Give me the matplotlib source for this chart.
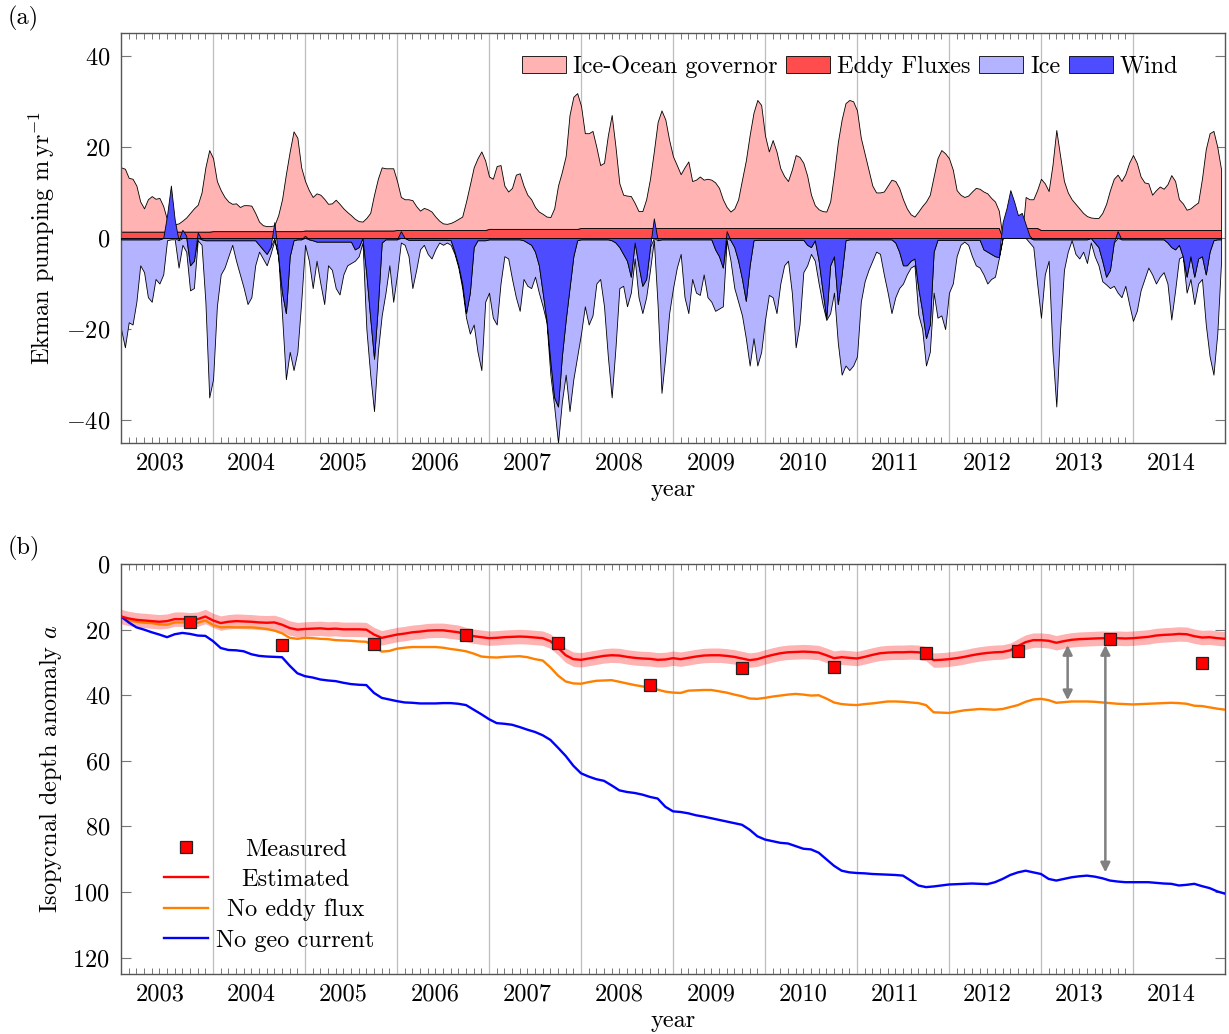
import numpy as np
import matplotlib
matplotlib.use('Agg')
import matplotlib.pyplot as plt

plt.rcParams['font.family'] = 'cmr10'
plt.rcParams['mathtext.fontset'] = 'cm'
plt.rcParams['axes.formatter.use_mathtext'] = True
plt.rcParams['font.size'] = 17.5

# --- (a) Ekman pumping contributions, two samples per month from 2003.0 ---
t_ek = 2003 + np.arange(288) / 24

eddy_yearly = [1.4, 1.5, 1.65, 1.75, 2.0, 2.2, 2.2, 2.2, 2.2, 2.2, 1.75, 1.75]

# upper edge of the governor area (stacked on the eddy band)
gov_top = [
    15.5, 15.2, 13.2, 13.0, 11.5, 8.0, 6.5, 8.5, 9.2, 8.6, 8.8, 7.0, 4.0, 3.2, 3.0, 3.2, 3.8, 4.5, 5.5, 6.5, 7.3, 10.0, 15.5, 19.3,
    17.5, 12.5, 10.5, 9.0, 8.0, 7.5, 7.6, 6.8, 7.2, 7.2, 7.1, 5.5, 3.6, 2.8, 2.6, 2.6, 2.8, 5.0, 8.5, 14.0, 19.0, 23.4, 22.0, 15.5,
    12.5, 10.5, 9.0, 9.8, 9.5, 8.6, 7.5, 7.6, 8.4, 7.5, 6.5, 5.7, 5.0, 4.2, 3.7, 3.6, 4.4, 5.5, 9.5, 13.0, 15.5, 15.3, 15.3, 15.3,
    12.5, 9.0, 8.5, 8.5, 8.3, 7.0, 6.0, 6.6, 6.3, 5.8, 4.7, 3.8, 3.2, 3.1, 3.3, 3.7, 4.2, 4.7, 8.0, 11.7, 15.5, 17.5, 19.0, 17.0,
    13.5, 13.0, 15.8, 16.0, 11.5, 10.2, 11.0, 13.9, 14.2, 11.5, 9.5, 8.5, 6.8, 5.8, 5.3, 4.7, 4.6, 6.5, 11.5, 14.5, 18.0, 27.0, 31.0, 31.8,
    29.0, 23.0, 23.0, 23.5, 20.0, 16.0, 16.5, 22.5, 27.0, 20.0, 12.0, 9.5, 9.3, 9.2, 7.7, 5.9, 5.9, 8.5, 13.0, 19.0, 25.5, 28.0, 26.0, 21.5,
    17.9, 16.0, 14.0, 15.5, 16.8, 12.5, 12.8, 13.5, 12.8, 13.0, 12.8, 12.2, 11.0, 8.5, 6.8, 5.8, 6.5, 8.5, 12.8, 17.0, 22.6, 27.5, 30.3, 29.2,
    22.5, 19.0, 21.5, 19.0, 15.3, 13.6, 12.5, 15.0, 18.2, 17.8, 16.5, 13.7, 9.5, 7.2, 6.3, 5.9, 5.8, 8.0, 14.0, 21.0, 26.0, 29.6, 30.3, 30.0,
    28.0, 22.0, 18.5, 15.0, 11.5, 10.0, 10.0, 10.2, 11.5, 12.8, 12.5, 11.0, 8.5, 6.5, 5.2, 4.7, 5.8, 7.0, 8.0, 9.5, 13.5, 17.5, 19.3, 18.6,
    17.5, 15.0, 10.5, 9.5, 9.0, 9.3, 10.2, 11.0, 10.8, 10.2, 9.8, 8.8, 8.0, 6.0, 0.0, 0.0, 0.0, 0.0, 0.0, 0.0, 9.0, 8.5, 8.5, 10.5,
    13.0, 12.0, 10.3, 16.0, 23.7, 18.0, 12.5, 10.0, 8.5, 7.5, 6.5, 5.5, 4.8, 4.5, 4.4, 4.4, 5.5, 7.5, 10.5, 13.0, 13.9, 12.5, 14.0, 16.5,
    18.2, 16.5, 13.5, 12.2, 12.0, 9.5, 10.5, 11.3, 10.8, 11.8, 13.8, 12.5, 8.5, 7.6, 6.2, 6.5, 7.2, 7.8, 13.0, 19.5, 23.0, 23.5, 20.0, 15.0,
]

wind = [
    -0.3, -0.3, -0.3, -0.3, -0.3, -0.3, -0.3, -0.3, -0.3, -0.3, -0.3, 0.0, 5.0, 11.5, 4.0, -0.5, 1.8, 0.5, -6.0, -5.0, 1.2, -0.3, -0.5, -0.5,
    -0.5, -0.5, -0.5, -0.5, -0.5, -0.5, -0.5, -0.5, -0.5, -0.5, -0.5, -0.5, -1.5, -2.5, -3.5, -2.0, 3.5, -4.0, -12.0, -16.5, -4.0, -0.5, -0.3, -0.3,
    0.5, -0.3, -0.5, -0.8, -0.8, -0.8, -0.8, -0.8, -0.8, -0.8, -0.8, -0.8, -0.8, -2.5, -2.0, 0.0, -8.0, -17.5, -26.5, -15.0, -1.0, -0.3, -0.3, -0.3,
    -0.3, 1.5, 0.0, -0.4, -0.4, -0.4, -0.4, -0.4, -0.4, -0.4, -0.4, -0.4, -0.4, -0.4, -0.5, -3.0, -6.0, -10.0, -16.5, -12.0, -2.0, -0.5, -0.5, -0.5,
    -0.3, -0.3, -0.3, -0.3, -0.3, -0.3, -0.3, -0.3, -0.3, -0.5, -1.0, -1.5, -3.0, -6.0, -12.0, -18.0, -27.0, -35.0, -37.0, -26.0, -18.0, -11.0, -4.0, -0.5,
    -0.3, -0.3, -0.3, -0.3, -0.3, -0.3, -0.3, -0.3, -0.5, -1.0, -2.0, -3.5, -5.0, -8.5, -1.0, -6.0, -10.5, -9.0, -2.0, 4.3, -0.5, -0.3, -0.3, -0.3,
    -0.3, -0.3, -0.3, -0.3, -0.3, -0.3, -0.3, -0.3, -0.3, -0.3, -0.3, -2.5, -4.0, -6.5, 1.5, -0.5, -2.0, -5.0, -9.0, -13.8, -6.0, -0.5, -0.4, -0.4,
    -0.4, -0.4, -0.4, -0.4, -0.4, -0.4, -0.4, -0.4, -0.4, -0.4, -0.4, -1.5, -2.0, -0.5, -5.0, -11.5, -17.5, -6.0, -4.0, -14.5, -8.0, -0.5, -0.3, -0.3,
    -0.3, -0.3, -0.3, -0.3, -0.3, -0.3, -0.3, -0.3, -0.3, -0.3, -1.0, -3.0, -6.0, -6.0, -5.0, -4.5, -11.0, -16.0, -22.0, -19.0, -3.0, -0.4, -0.4, -0.4,
    -0.4, -0.4, -0.4, -0.4, -0.4, -0.4, -0.4, -0.4, -0.4, -2.5, -3.0, -3.5, -4.0, -4.2, 3.5, 6.5, 10.5, 8.0, 5.0, 5.5, 3.0, 0.5, -0.3, -0.3,
    -0.3, -0.3, -0.3, -0.3, -0.3, -0.3, -0.3, -0.3, -0.3, -0.3, -0.3, -0.3, -0.3, 0.0, -1.0, -2.0, -5.0, -8.5, -7.0, -1.0, 1.5, -0.3, -0.3, -0.3,
    -0.3, -0.3, -0.3, -0.3, -0.3, -0.3, -0.3, -0.3, -0.3, -1.0, -2.0, -2.5, -1.5, -4.0, -8.5, -4.0, -8.5, -4.5, -4.0, -8.0, -3.0, -0.5, -0.3, -0.3,
]

# lower edge of the ice area (stacked below the negative wind part)
ice_bottom = [
    -20.0, -24.0, -18.5, -19.0, -14.0, -6.0, -7.5, -13.0, -14.0, -9.0, -10.0, -8.0, -0.5, -0.3, -0.3, -6.5, -1.5, -3.0, -11.5, -11.0, -0.5, -1.5, -14.0, -35.0,
    -31.0, -15.0, -8.0, -6.5, -4.0, -1.5, -5.0, -8.0, -11.0, -14.5, -13.0, -6.0, -3.0, -4.5, -6.0, -3.5, -0.5, -4.0, -17.0, -31.0, -25.0, -29.0, -25.0, -14.0,
    -1.5, -5.0, -11.0, -5.0, -10.0, -14.5, -6.0, -7.0, -11.0, -12.4, -8.0, -6.0, -5.5, -5.0, -4.0, -1.0, -20.0, -30.0, -38.0, -25.0, -17.0, -12.0, -6.0, -14.0,
    -8.0, -1.0, -1.5, -4.0, -11.0, -7.0, -2.5, -1.5, -3.5, -4.5, -2.5, -1.0, -1.5, -1.0, -1.5, -3.5, -6.5, -11.0, -17.5, -21.0, -19.0, -25.0, -29.0, -14.0,
    -12.0, -17.5, -19.0, -10.0, -4.0, -4.5, -9.0, -13.0, -16.0, -9.0, -10.5, -11.0, -8.5, -12.0, -15.0, -18.5, -30.0, -37.0, -45.0, -36.0, -30.0, -38.0, -31.0, -26.0,
    -21.0, -15.0, -19.0, -17.0, -10.0, -9.0, -15.0, -26.0, -35.0, -24.0, -11.0, -10.5, -15.0, -12.0, -4.5, -13.0, -16.5, -13.0, -7.0, -0.5, -15.0, -34.0, -26.0, -16.5,
    -11.0, -6.5, -3.5, -13.0, -16.5, -9.0, -12.0, -12.5, -8.0, -13.0, -14.0, -16.0, -15.5, -15.0, -0.5, -5.0, -11.0, -14.0, -17.0, -22.0, -28.0, -22.0, -28.0, -25.0,
    -18.0, -12.5, -13.0, -16.5, -10.0, -6.0, -5.0, -12.0, -24.0, -19.0, -7.5, -6.0, -3.5, -5.0, -10.0, -14.5, -18.0, -16.5, -12.0, -23.0, -30.0, -28.0, -29.0, -28.0,
    -26.0, -14.0, -9.5, -7.0, -5.0, -3.0, -3.5, -8.0, -12.0, -16.5, -13.0, -11.0, -10.0, -8.0, -6.5, -6.0, -16.8, -20.0, -28.0, -25.0, -12.0, -17.5, -17.0, -20.0,
    -12.0, -10.0, -4.0, -1.5, -0.8, -1.5, -4.0, -6.0, -6.5, -8.0, -10.0, -9.0, -8.5, -4.5, 0.0, 0.0, 0.0, 0.0, 0.0, 0.0, 0.0, -1.0, -2.0, -10.0,
    -17.5, -8.0, -5.0, -24.8, -37.0, -20.0, -7.0, -3.0, -0.5, -3.5, -4.5, -3.0, -5.5, -1.0, -4.0, -6.0, -9.5, -10.2, -11.0, -10.5, -12.0, -13.0, -10.5, -14.5,
    -18.2, -16.0, -11.5, -9.0, -6.5, -8.0, -10.0, -8.5, -7.5, -10.0, -17.9, -11.5, -4.5, -4.0, -12.0, -9.0, -14.5, -10.0, -9.0, -19.0, -26.0, -30.0, -21.0, -5.0,
]

# --- (b) isopycnal depth anomaly, monthly from 2003.0 ---
t_iso = 2003 + np.arange(145) / 12

estimated = [
    16.0, 16.6, 17.0, 17.2, 17.4, 17.6, 17.4, 16.8, 16.8, 17.0, 16.8, 16.0,
    17.2, 18.0, 17.6, 17.4, 17.5, 17.6, 17.8, 17.9, 17.8, 18.5, 19.5, 20.0,
    19.8, 19.7, 19.6, 19.8, 19.7, 19.9, 19.9, 19.9, 20.0, 21.5, 22.5, 22.0,
    21.5, 21.2, 20.8, 20.6, 20.3, 20.2, 20.2, 20.5, 20.8, 21.5, 22.0, 22.3,
    22.6, 22.5, 22.3, 22.2, 22.1, 22.2, 22.4, 22.6, 23.5, 25.5, 27.8, 29.0,
    29.2, 28.8, 28.4, 28.0, 27.8, 27.9, 28.3, 28.6, 28.8, 28.9, 29.2, 29.1,
    28.7, 29.0, 28.6, 28.2, 27.9, 27.8, 27.8, 28.0, 28.3, 28.8, 29.3, 29.0,
    28.3, 27.7, 27.2, 26.9, 26.8, 26.7, 26.8, 27.0, 27.8, 28.7, 28.4, 28.6,
    28.8, 28.3, 27.7, 27.2, 27.0, 26.9, 26.9, 26.8, 26.9, 27.3, 29.3, 29.2,
    29.0, 28.7, 28.3, 27.8, 27.4, 27.1, 26.9, 26.8, 26.3, 25.0, 23.8, 23.2,
    23.2, 23.4, 24.0, 23.5, 23.1, 22.9, 22.8, 22.7, 22.6, 22.7, 22.6, 22.7,
    22.6, 22.4, 22.2, 21.8, 21.6, 21.5, 21.3, 21.4, 22.0, 22.4, 22.3, 22.6, 22.8,
]
estimated_err = 2.2

no_eddy_flux = [
    16.0, 17.2, 17.6, 17.9, 18.0, 18.4, 18.5, 17.8, 17.8, 17.6, 17.9, 17.2,
    18.6, 19.3, 19.2, 19.3, 19.3, 19.3, 19.5, 19.8, 20.3, 21.1, 22.5, 22.8,
    22.5, 22.6, 22.8, 22.9, 23.2, 23.3, 23.4, 23.6, 23.7, 25.0, 26.7, 26.5,
    25.8, 25.5, 25.3, 25.3, 25.3, 25.3, 25.5, 25.9, 26.2, 26.6, 27.3, 28.2,
    28.4, 28.5, 28.3, 28.2, 28.1, 28.4, 29.0, 29.4, 31.5, 34.0, 35.8, 36.4,
    36.5, 36.0, 35.6, 35.5, 35.4, 35.9, 36.4, 36.9, 37.3, 37.7, 38.3, 38.9,
    39.2, 39.3, 38.6, 38.5, 38.4, 38.4, 38.8, 39.2, 39.8, 40.3, 41.0, 41.1,
    40.8, 40.4, 40.1, 39.8, 39.6, 39.8, 40.1, 40.0, 41.0, 42.2, 42.7, 42.9,
    43.0, 42.7, 42.5, 42.2, 41.9, 41.9, 42.0, 42.2, 42.4, 43.0, 45.2, 45.3,
    45.4, 45.0, 44.6, 44.4, 44.2, 44.3, 44.4, 44.2, 43.6, 43.0, 42.0, 41.3,
    41.1, 41.5, 42.3, 42.1, 41.9, 41.9, 41.9, 42.0, 42.2, 42.4, 42.6, 42.7,
    42.8, 42.7, 42.6, 42.5, 42.4, 42.3, 42.4, 42.6, 43.2, 43.3, 43.7, 44.1, 44.4,
]

no_geo_current = [
    16.0, 17.8, 19.3, 20.0, 20.8, 21.5, 22.3, 21.4, 21.0, 21.3, 21.8, 21.9,
    23.5, 25.6, 26.2, 26.3, 26.6, 27.5, 28.0, 28.2, 28.3, 28.4, 31.0, 33.3,
    34.2, 34.6, 35.2, 35.5, 35.7, 36.2, 36.6, 36.8, 36.9, 39.3, 40.8, 41.3,
    41.8, 42.2, 42.3, 42.5, 42.5, 42.5, 42.4, 42.4, 42.6, 43.0, 44.4, 45.8,
    47.3, 48.5, 48.7, 49.0, 49.7, 50.5, 51.2, 52.2, 53.6, 56.0, 58.5, 61.5,
    63.8, 64.8, 65.6, 66.1, 67.5, 69.0, 69.5, 69.8, 70.3, 71.0, 71.5, 74.0,
    75.4, 75.6, 76.0, 76.6, 77.0, 77.5, 78.0, 78.5, 79.0, 79.5, 81.0, 83.0,
    84.0, 84.5, 85.0, 85.2, 86.0, 86.8, 87.0, 88.0, 90.0, 92.0, 93.5, 94.0,
    94.2, 94.3, 94.5, 94.6, 94.7, 94.8, 95.0, 96.5, 98.0, 98.5, 98.3, 98.0,
    97.7, 97.6, 97.5, 97.4, 97.5, 97.6, 97.0, 96.0, 94.8, 94.0, 93.5, 94.0,
    94.5, 96.0, 96.5, 96.0, 95.5, 95.2, 95.0, 95.3, 95.8, 96.5, 96.8, 97.0,
    97.0, 97.0, 97.0, 97.2, 97.4, 97.5, 98.0, 97.8, 97.5, 98.2, 98.8, 99.8, 100.5,
]

measured_t = [2003.75, 2004.75, 2005.75, 2006.75, 2007.75, 2008.75,
              2009.75, 2010.75, 2011.75, 2012.75, 2013.75, 2014.75]
measured = [17.6, 24.7, 24.5, 21.7, 24.2, 37.0, 31.8, 31.3, 27.0, 26.6, 22.8, 30.3]

# gaps between the model runs
arrow_t = [2013.29, 2013.70]
arrow_from = [24.7, 24.7]
arrow_to = [41.5, 94.0]

year_labels = list(range(2003, 2015))


def year_axis(ax):
    ax.set_xlim(2003, 2015)
    ax.set_xticks([y + 0.42 for y in year_labels])
    ax.set_xticklabels([str(y) for y in year_labels])
    months = [2003 + m / 12 for m in range(1, 132) if m % 12 != 0]
    ax.set_xticks(months, minor=True)
    ax.tick_params(axis='x', which='major', length=0, pad=7)
    ax.tick_params(axis='x', which='minor', direction='in', length=4,
                   top=True, bottom=True, color='#777777', width=0.7)
    ax.tick_params(axis='y', which='major', direction='in', length=7,
                   left=True, right=True, color='#777777', width=0.8, pad=8)
    for yr in range(2004, 2015):
        ax.axvline(yr, color='#bdbdbd', lw=0.9, zorder=0)
    for s in ax.spines.values():
        s.set_color('#555555')
        s.set_linewidth(1.0)
    ax.set_xlabel('year', labelpad=3)


fig = plt.figure(figsize=(12.29, 10.34), dpi=100)
ax1 = fig.add_axes([0.0985, 0.5716, 0.8982, 0.3965])
ax2 = fig.add_axes([0.0985, 0.0580, 0.8982, 0.3965])

# ---------- panel (a): stacked areas ----------
top = np.array(gov_top)
w = np.array(wind)
eddy = np.repeat(eddy_yearly, 24)
eddy = np.where(top > 0, eddy, 0.0)
w_neg = np.minimum(w, 0)
bottom = np.minimum(np.array(ice_bottom), w_neg)

edge = dict(edgecolor='black', linewidth=0.6)
h_eddy = ax1.fill_between(t_ek, 0, eddy, facecolor='#ff4d4d', **edge, zorder=2)
h_gov = ax1.fill_between(t_ek, eddy, np.maximum(top, eddy), facecolor='#ffb3b3', **edge, zorder=2)
h_ice = ax1.fill_between(t_ek, w_neg, bottom, facecolor='#b3b3ff', **edge, zorder=2)
h_wind = ax1.fill_between(t_ek, 0, w, facecolor='#4d4dff', **edge, zorder=3)

ax1.set_ylim(-45, 45)
ax1.set_yticks([-40, -20, 0, 20, 40])
year_axis(ax1)
ax1.set_ylabel(r'Ekman pumping $\mathrm{m\,yr^{-1}}$', labelpad=6)
ax1.legend([h_gov, h_eddy, h_ice, h_wind],
           ['Ice-Ocean governor', 'Eddy Fluxes', 'Ice', 'Wind'],
           loc='upper right', bbox_to_anchor=(0.969, 0.975), ncol=4,
           frameon=False, handlelength=1.8, handleheight=0.7,
           handletextpad=0.3, columnspacing=0.35, borderpad=0.0)

# ---------- panel (b): depth anomaly ----------
est = np.array(estimated)
ax2.fill_between(t_iso, est - estimated_err, est + estimated_err,
                 color='#ff0000', alpha=0.3, lw=0, zorder=2)
l_est, = ax2.plot(t_iso, est, color='#ff0000', lw=1.7, zorder=4)
l_eddy, = ax2.plot(t_iso, no_eddy_flux, color='#ff8000', lw=1.7, zorder=3)
l_geo, = ax2.plot(t_iso, no_geo_current, color='#0000ff', lw=1.7, zorder=3)
l_meas, = ax2.plot(measured_t, measured, 's', mfc='#ff0000', mec='#222222',
                   ms=8.5, mew=0.9, ls='none', zorder=5)
for x, a, b in zip(arrow_t, arrow_from, arrow_to):
    ax2.annotate('', xy=(x, b), xytext=(x, a),
                 arrowprops=dict(arrowstyle='<|-|>', color='#808080', lw=1.8,
                                 mutation_scale=14, shrinkA=0, shrinkB=0),
                 zorder=6)

ax2.set_ylim(125, 0)
ax2.set_yticks([0, 20, 40, 60, 80, 100, 120])
year_axis(ax2)
ax2.set_ylabel('Isopycnal depth anomaly $a$', labelpad=6)
leg2 = ax2.legend([l_meas, l_est, l_eddy, l_geo],
                  ['Measured', 'Estimated', 'No eddy flux', 'No geo current'],
                  loc='lower left', bbox_to_anchor=(0.028, 0.025),
                  frameon=False, handlelength=1.8, handletextpad=0.35,
                  labelspacing=0.33, borderpad=0.0)

fig.text(0.006, 1 - 18 / 1034, '(a)', ha='left', va='center')
fig.text(0.006, 1 - 548 / 1034, '(b)', ha='left', va='center')

# centre the legend labels in their column
fig.canvas.draw()
r = fig.canvas.get_renderer()
texts = leg2.get_texts()
widths = [t.get_window_extent(r).width for t in texts]
for t, wd in zip(texts, widths):
    t.set_position(((max(widths) - wd) / 2, 0))

fig.savefig('out.png', dpi=100)
